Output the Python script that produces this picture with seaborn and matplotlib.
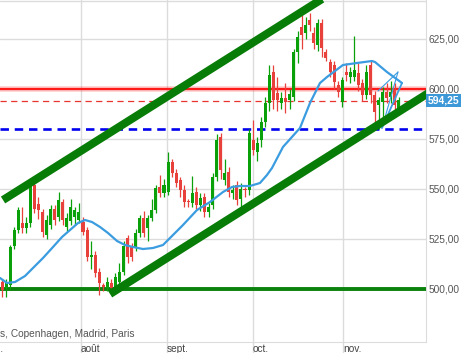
import numpy as np
import pandas as pd
import matplotlib
matplotlib.use("Agg")
import matplotlib.pyplot as plt
import seaborn as sns

# ---------------- data ----------------
opens  = [503.5,500.5,502,521.5,529.5,533,530.5,533,552,542.5,538.5,527,532,540,536,543.5,531,534,536,534.5,
          533.5,529.5,516,517,508.5,502,500.5,503,500.5,503.5,508.5,525.5,521,521,528,535.5,530.5,535.5,539.5,551,
          548,548.5,563.5,558,554.5,549.5,543.5,543,548.5,542,546,538.5,542,556,576,554.5,558.5,548,552,545,
          549.5,549.5,574.5,568.5,574.5,583.5,593,608.5,598,593,595.5,594.5,596,618.5,631,628,634.5,628,622,633,
          618.5,613.5,612,602,593.5,608.5,606,606,608,603,597,612,597,592,593.5,598.5,596,599.5,590.5]
closes = [499.5,503,521,529.5,539.5,530.5,533,552,540,539.5,528.5,534.5,540,534.5,544.5,534.5,535.5,541,539.5,538.5,
          528.5,516,517,508,503,501,503.5,500.5,506,508.5,521.5,516,516,528,535.5,528,535.5,539.5,550.5,548,
          552,563.5,558,553,549.5,543.5,543,548,542,545.5,538.5,541,556,574.5,559.5,558,548.5,549.5,544.5,550,
          549,578,569.5,573,583.5,593,607,594.5,594.5,595.5,593.5,597.5,618.5,626,627,632,632,623,633,620.5,
          615.5,608.5,603.5,598.5,604.5,607,608.5,609.5,602,597,608.5,597,588.5,594.5,598.5,595.5,598.5,592,594.5]
highs  = [505,505,522,531,541,541,536,554.5,553,546,540,537,542,542,548.5,545,538,545,541,543,
          536,531,524,519,510.5,503,506,505,508,513,524,527,523,530,537,539,537,545,552,557,
          555,568.5,565,560,556,552,545,556.5,551,548,548,543,558,577.5,578,565,561,552,554,553,
          551,580,584.5,576,586,596,612,612,606,598.5,603,600,620,629,637,636,638,631,635,635,
          620,615,614,604,606,613,611,626.5,613,605,612,614,599,596,601,603,604,603,596]
lows   = [496,496,500,520,528,528,528,531,538,535,526,525,530,532,534,532,529,532,532,533,
          527,514,510,506,497,499,499,499,499.5,502,507,513,514,519,526,526,524,534,538,546,
          546,547,556,551,546,541,541,541,540,539,536,536,540,554,555,552,546,545,542,539,
          546,547,567,564,571,581,589,590,589,590,588,590,594,613,620,625,629,620,619,616,
          614,606,600,596,591,604,603,604,599,594,595,593,583,580,586,593,593,589,589]

month_labels = ["août", "sept.", "oct.", "nov."]
month_pos = [19.5, 40.7, 62.0, 84.2]

ytick_vals = [500, 525, 550, 575, 600, 625]

ma_idx = [-0.49,1.23,3.21,5.68,7.65,10.12,12.59,14.81,16.79,18.77,20.49,22.22,24.2,26.17,28.4,30.37,32.35,34.81,
          37.28,39.75,41.48,44.69,48.15,51.36,54.57,56.79,58.77,61.23,63.7,65.43,66.67,69.38,73.58,76.05,78.52,
          80.25,84.2,87.65,91.36,92.1,95.06,98.77]
ma_val = [505.5,503,503.5,506.5,510.5,515.5,521,526,529.5,533,534.5,533.5,531,528,524,522,521,520,520.5,522,
          525.5,532,539.5,543.5,548.5,551,551.5,551.5,553,557,560.5,571,580.5,593,603,606,612,613,614,613.5,
          608.5,603]

upper_channel_x = [0.25, 80.99]
upper_channel_y = [544.5, 647.5]
lower_channel_x = [26.67, 114.3]
lower_channel_y = [497.5, 609.5]

resistance = 600
last_price = 594.25
support_blue = 580
support_green = 500

thin1_x, thin1_y = [93.83, 97.78], [580.5, 608.5]
thin2_x, thin2_y = [92.84, 97.78], [599.0, 608.5]
thin3_x, thin3_y = [98.77, 93.83], [603.0, 580.5]

source_text = "s, Copenhagen, Madrid, Paris"

# ---------------- figure ----------------
sns.set_style("white")
plt.rcParams['font.family'] = ['Liberation Sans', 'DejaVu Sans']

W, H = 465, 353
fig = plt.figure(figsize=(W / 100, H / 100), dpi=100)
ax = fig.add_axes([0, 11 / H, 426 / W, 342 / H])
ax.set_xlim(-0.5, 104.7)
ax.set_ylim(473.5, 644.5)

GRID = "#dcdcdc"
for v in ytick_vals:
    ax.axhline(v, color=GRID, lw=1, zorder=0)
for p in month_pos:
    ax.axvline(p, ymin=-0.04, ymax=1, color=GRID, lw=1, zorder=0, clip_on=False)
ax.axhline(644.0, color=GRID, lw=1, zorder=0)

for s in ["left", "bottom", "top"]:
    ax.spines[s].set_visible(False)
ax.spines["right"].set_color(GRID)
ax.spines["bottom"].set_visible(True)
ax.spines["bottom"].set_color(GRID)

# horizontal levels
ax.axhline(resistance, color="#ff3030", lw=4.0, alpha=0.25, zorder=2)
ax.axhline(resistance, color="#ff1a1a", lw=1.6, zorder=3)
ax.axhline(last_price, color="#e8352e", lw=0.9, ls=(0, (5, 3.5)), zorder=3)
ax.axhline(support_blue, color="#0000ee", lw=1.9, ls=(0, (3.2, 2.2)), zorder=3)
ax.axhline(support_green, color="#0b820b", lw=2.8, zorder=3)

# candles
idx = np.arange(len(opens))
df = pd.DataFrame({"i": idx, "o": opens, "c": closes, "h": highs, "l": lows})
GREEN, RED = "#0aa00a", "#e8413c"
colors = [GREEN if c >= o else RED for o, c in zip(df.o, df.c)]
ax.vlines(df.i, df.l, df.h, colors=colors, lw=0.9, zorder=4)
body = np.where(np.abs(df.c - df.o) < 0.6, 0.6, df.c - df.o)
ax.bar(df.i, body, bottom=df.o, width=0.75, color=colors, lw=0, zorder=5)

# moving average
sns.lineplot(x=ma_idx, y=ma_val, ax=ax, color="#3b9ce0", lw=1.6, zorder=6, sort=False)
for xs, ys, lw in [(thin1_x, thin1_y, 0.8), (thin2_x, thin2_y, 0.8), (thin3_x, thin3_y, 1.3)]:
    ax.plot(xs, ys, color="#3b9ce0", lw=lw, zorder=6)

# channel lines
ax.plot(upper_channel_x, upper_channel_y, color="#077d07", lw=5.8, solid_capstyle="butt", zorder=7)
ax.plot(lower_channel_x, lower_channel_y, color="#077d07", lw=5.8, solid_capstyle="butt", zorder=7)

# axes labels
ax.yaxis.tick_right()
ax.set_yticks(ytick_vals)
ax.set_yticklabels([f"{v:.2f}".replace(".", ",") for v in ytick_vals],
                   fontsize=7.3, color="#555555")
ax.tick_params(axis="y", length=0, pad=2)
ax.set_xticks(month_pos)
ax.set_xticklabels(month_labels, fontsize=7.3, color="#444444", ha="left")
ax.tick_params(axis="x", length=0, pad=1.2)
ax.text(-3.3, -0.005, "juil.", transform=ax.get_xaxis_transform(), fontsize=7.3, color="#444444",
        ha="left", va="top", clip_on=False)
ax.text(-0.55, 477.5, source_text, fontsize=7.3, color="#555555", ha="left", va="center", zorder=8)

# current price tag
ax.text(1.004, last_price, f"{last_price:.2f}".replace(".", ","), transform=ax.get_yaxis_transform(),
        fontsize=7.5, color="white", fontweight="bold", ha="left", va="center", zorder=9, clip_on=False,
        bbox=dict(boxstyle="square,pad=0.18", fc="#3d98d8", ec="none"))

fig.savefig("out.png", dpi=100)
